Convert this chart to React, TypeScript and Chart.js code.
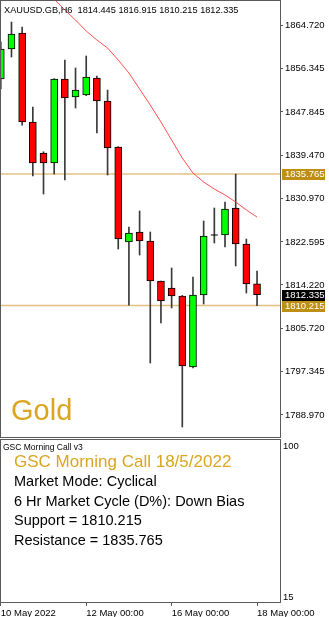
import React, { useEffect, useRef } from 'react';
import { Chart, registerables } from 'chart.js';

Chart.register(...registerables);

// ---------- data ----------
const SYMBOL = 'XAUUSD.GB,H6';
const OPEN = [1854.23, 1860.06, 1863.17, 1845.88, 1839.86, 1837.91, 1854.23, 1850.73, 1851.12, 1854.42, 1849.96, 1841.02, 1822.57, 1824.51, 1822.76, 1814.99, 1813.63, 1812.08, 1798.29, 1812.27, 1823.93, 1823.93, 1829.17, 1822.18, 1814.445];
const HIGH = [1861.4, 1865.3, 1864.33, 1848.79, 1840.1, 1854.3, 1857.92, 1856.37, 1858.7, 1854.81, 1852.09, 1841.1, 1825.48, 1828.59, 1824.51, 1815.0, 1817.52, 1812.2, 1815.77, 1826.65, 1829.17, 1830.34, 1835.765, 1823.15, 1816.915];
const LOW = [1852.3, 1858.5, 1845.29, 1835.39, 1831.89, 1835.78, 1834.61, 1848.6, 1851.0, 1843.74, 1835.58, 1821.21, 1810.3, 1820.04, 1799.06, 1806.83, 1809.75, 1786.63, 1798.1, 1810.52, 1822.37, 1821.6, 1817.91, 1812.66, 1810.215];
const CLOSE = [1860.06, 1862.97, 1845.88, 1837.91, 1837.91, 1854.23, 1850.54, 1852.09, 1854.62, 1849.96, 1840.83, 1823.15, 1824.32, 1822.76, 1814.99, 1811.11, 1812.08, 1798.48, 1812.27, 1823.73, 1823.93, 1828.98, 1822.18, 1814.445, 1812.335];
const MA_START = 5;
const MA = [1869.77, 1867.63, 1865.69, 1863.55, 1861.81, 1860.25, 1857.92, 1855.4, 1852.29, 1849.18, 1845.88, 1842.38, 1838.88, 1835.97, 1834.22, 1832.86, 1831.7, 1830.34, 1828.79, 1827.42];
const PRICE_TICKS = [1864.72, 1856.345, 1847.845, 1839.47, 1830.97, 1822.595, 1814.22, 1805.72, 1797.345, 1788.97];
const X_TICKS = [0, 8, 16, 24];
const X_TICK_LABELS = ['10 May 2022', '12 May 00:00', '16 May 00:00', '18 May 00:00'];
const SUPPORT = 1810.215;
const RESISTANCE = 1835.765;
const INDICATOR_TICKS = [100, 15];
const PANEL_SUBTITLE = 'GSC Morning Call v3';
const PANEL_TITLE = 'GSC Morning Call 18/5/2022';
const PANEL_LINES = ['Market Mode: Cyclical', '6 Hr Market Cycle (D%): Down Bias', 'Support = 1810.215', 'Resistance = 1835.765'];
const INSTRUMENT = 'Gold';

const FONT = "'Liberation Sans', Arial, sans-serif";
const GOLD = '#DAA520';
const FRAME = '#5a5a5a';

export default function App() {
  const ref = useRef<HTMLCanvasElement>(null);

  useEffect(() => {
    document.body.style.margin = '0';
    const canvas = ref.current!;
    const idx = OPEN.map((_, i) => i);
    const bodyIdx = idx.filter((i) => OPEN[i] !== CLOSE[i]);
    const bodyData = bodyIdx.map((i) => ({ x: i, y: [OPEN[i], CLOSE[i]] }));
    const bodyColors = bodyIdx.map((i) => (CLOSE[i] > OPEN[i] ? '#00FF00' : '#FF0000'));
    const wickData = idx.map((i) => ({ x: i, y: [LOW[i], HIGH[i]] }));
    const dojiData = idx.filter((i) => OPEN[i] === CLOSE[i]).map((i) => ({ x: i, y: CLOSE[i] }));
    const maData = MA.map((v, k) => ({ x: MA_START + k, y: v }));
    const X_MIN = -0.075;
    const X_MAX = 26.15;
    const last = CLOSE[CLOSE.length - 1];

    const overlay = {
      id: 'overlay',
      afterDraw(chart: any) {
        const ctx = chart.ctx as CanvasRenderingContext2D;
        const y = chart.scales.y;
        ctx.save();
        // frames
        ctx.strokeStyle = FRAME;
        ctx.lineWidth = 1;
        ctx.strokeRect(0.5, 0.5, 280, 437);
        ctx.strokeRect(0.5, 439.5, 280, 163);
        // header
        ctx.fillStyle = '#000';
        ctx.font = `9.2px ${FONT}`;
        ctx.textBaseline = 'alphabetic';
        ctx.textAlign = 'left';
        ctx.fillText(`${SYMBOL}  ${OPEN[OPEN.length - 1].toFixed(3)} ${HIGH[HIGH.length - 1].toFixed(3)} ${LOW[LOW.length - 1].toFixed(3)} ${last.toFixed(3)}`, 4, 13);
        // instrument
        ctx.fillStyle = GOLD;
        ctx.font = `29px ${FONT}`;
        ctx.fillText(INSTRUMENT, 11, 420);
        // panel texts
        ctx.fillStyle = '#000';
        ctx.font = `8.5px ${FONT}`;
        ctx.fillText(PANEL_SUBTITLE, 3, 450);
        ctx.fillStyle = GOLD;
        ctx.font = `17px ${FONT}`;
        ctx.fillText(PANEL_TITLE, 14, 467);
        ctx.fillStyle = '#000';
        ctx.font = `14.5px ${FONT}`;
        PANEL_LINES.forEach((t, k) => ctx.fillText(t, 14, 486 + k * 19.7));
        // price labels
        const boxes: [number, string][] = [
          [RESISTANCE, '#BF8F14'],
          [SUPPORT, '#BF8F14'],
          [last, '#000000'],
        ];
        ctx.font = `9.5px ${FONT}`;
        ctx.textBaseline = 'middle';
        boxes.forEach(([v, c]) => {
          const py = Math.round(y.getPixelForValue(v));
          ctx.fillStyle = c;
          ctx.fillRect(282, py - 5, 43, 11);
          ctx.fillStyle = '#fff';
          ctx.fillText(v.toFixed(3), 285, py + 0.5);
        });
        ctx.restore();
      },
    };

    const noPad = (s: any) => {
      s.paddingLeft = 0;
      s.paddingRight = 0;
      s.paddingTop = 0;
      s.paddingBottom = 0;
    };

    const chart = new Chart(canvas, {
      type: 'bar',
      data: {
        datasets: [
          {
            type: 'line',
            data: maData,
            borderColor: '#FF5050',
            borderWidth: 1,
            pointRadius: 0,
            tension: 0,
            order: 0,
          } as any,
          {
            type: 'line',
            data: dojiData,
            showLine: false,
            pointStyle: 'line',
            pointRadius: 3.5,
            pointBorderColor: '#000',
            pointBorderWidth: 1,
            borderColor: '#000',
            order: 0,
          } as any,
          {
            type: 'bar',
            data: bodyData,
            backgroundColor: bodyColors,
            borderColor: '#000',
            borderWidth: 1,
            borderSkipped: false,
            barThickness: 7,
            grouped: false,
            order: 1,
          } as any,
          {
            type: 'bar',
            data: wickData,
            backgroundColor: '#3a3a3a',
            borderWidth: 0,
            barThickness: 1,
            grouped: false,
            order: 2,
          } as any,
          {
            type: 'line',
            data: [{ x: X_MIN, y: RESISTANCE }, { x: X_MAX, y: RESISTANCE }],
            borderColor: '#E3C27F',
            borderWidth: 1.5,
            pointRadius: 0,
            order: 3,
          } as any,
          {
            type: 'line',
            data: [{ x: X_MIN, y: SUPPORT }, { x: X_MAX, y: SUPPORT }],
            borderColor: '#E3C27F',
            borderWidth: 1.5,
            pointRadius: 0,
            order: 3,
          } as any,
        ],
      },
      options: {
        animation: false,
        responsive: false,
        devicePixelRatio: 1,
        layout: { padding: 0, autoPadding: false },
        plugins: { legend: { display: false }, tooltip: { enabled: false } },
        events: [],
        scales: {
          x: {
            type: 'linear',
            offset: false,
            min: X_MIN,
            max: X_MAX,
            position: 'bottom',
            afterBuildTicks: (s: any) => {
              s.ticks = X_TICKS.map((v) => ({ value: v }));
            },
            afterFit: (s: any) => {
              s.height = 14;
              noPad(s);
            },
            ticks: {
              callback: (v: any) => X_TICK_LABELS[X_TICKS.indexOf(Number(v))] ?? '',
              align: 'start',
              maxRotation: 0,
              autoSkip: false,
              padding: 2,
              color: '#000',
              font: { family: FONT, size: 9.5 },
            },
            grid: { offset: false, drawOnChartArea: false, drawTicks: true, tickLength: 3, color: FRAME },
            border: { display: false },
          },
          y: {
            type: 'linear',
            position: 'right',
            stack: 'panes',
            stackWeight: 438,
            weight: 0,
            min: 1784.5,
            max: 1869.58,
            afterBuildTicks: (s: any) => {
              s.ticks = PRICE_TICKS.map((v) => ({ value: v }));
            },
            afterFit: (s: any) => {
              s.width = 49;
              noPad(s);
            },
            ticks: {
              callback: (v: any) => Number(v).toFixed(3),
              padding: 2,
              color: '#000',
              font: { family: FONT, size: 9.5 },
            },
            grid: { drawOnChartArea: false, drawTicks: true, tickLength: 3, color: FRAME },
            border: { display: false },
          },
          y2: {
            type: 'linear',
            position: 'right',
            stack: 'panes',
            stackWeight: 165,
            weight: 1,
            min: 11.6,
            max: 104.5,
            afterBuildTicks: (s: any) => {
              s.ticks = INDICATOR_TICKS.map((v) => ({ value: v }));
            },
            afterFit: (s: any) => {
              s.width = 49;
              noPad(s);
            },
            ticks: {
              callback: (v: any) => String(v),
              padding: 3,
              color: '#000',
              font: { family: FONT, size: 9.5 },
            },
            grid: { drawOnChartArea: false, drawTicks: false },
            border: { display: false },
          },
        },
      } as any,
      plugins: [overlay],
    });

    return () => chart.destroy();
  }, []);

  return <canvas ref={ref} width={329} height={617} style={{ display: 'block', width: 329, height: 617 }} />;
}
